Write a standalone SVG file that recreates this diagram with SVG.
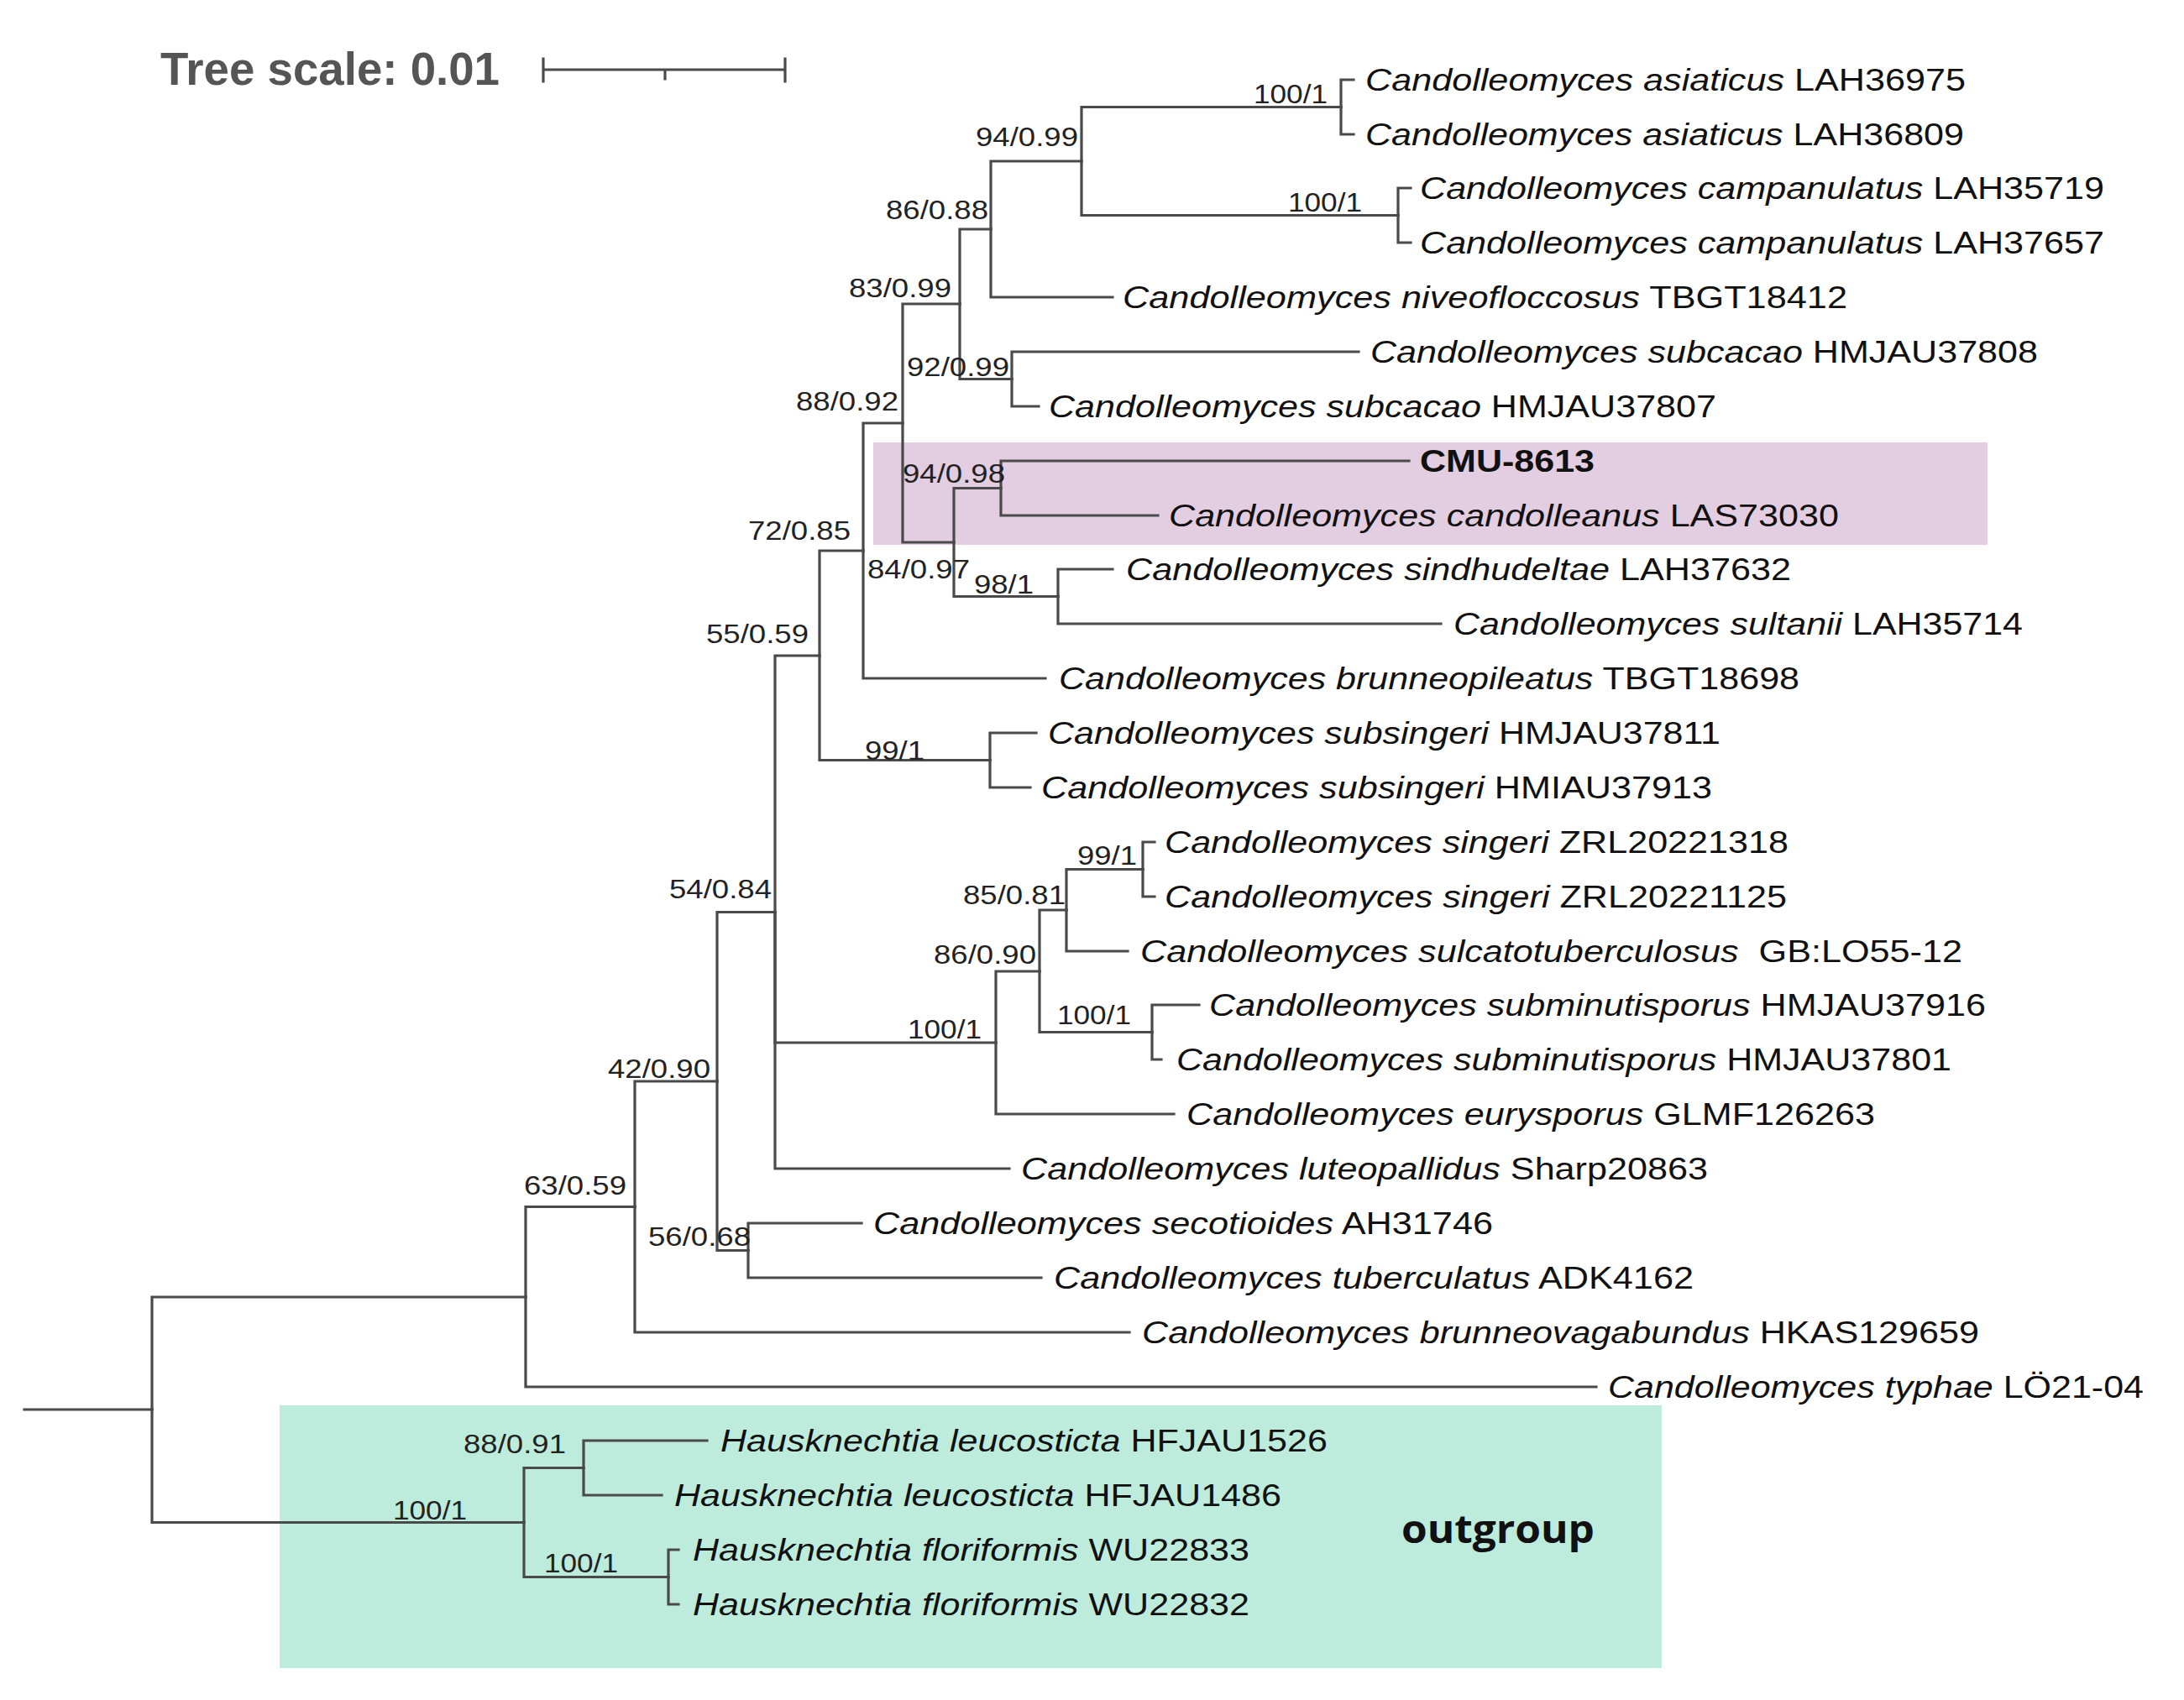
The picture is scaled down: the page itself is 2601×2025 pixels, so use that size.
<svg xmlns="http://www.w3.org/2000/svg" width="2601" height="2025" viewBox="0 0 2601 2025">
<style>
.br{fill:none;stroke:#4a4a4a;stroke-width:3.2;stroke-linecap:square}
.lf{font-family:"Liberation Sans",Arial,sans-serif;font-size:36px;fill:#111}
.lf .sp{font-style:italic}
.sup{font-family:"Liberation Sans",Arial,sans-serif;font-size:31px;fill:#222}
.ttl{font-family:"Liberation Sans",Arial,sans-serif;font-size:55px;font-weight:bold;fill:#555}
.og{font-family:"Open Sans","Noto Sans",sans-serif;font-size:46px;font-weight:bold;fill:#111}
</style>
<rect width="2601" height="2025" fill="#fff"/>
<g id="highlight-boxes">
<rect x="1040" y="527" width="1327" height="122" fill="#e3cde1"/>
<rect x="333" y="1674" width="1646" height="313" fill="#beecdc"/>
</g>
<g id="tree-scale">
<text class="ttl" x="191" y="101" textLength="404" lengthAdjust="spacingAndGlyphs">Tree scale: 0.01</text>
<path class="br" d="M647,83 H935 M647,70 V97 M935,70 V97 M792,83 V94"/>
</g>
<g id="connectors">
<path class="br" d="M29,1679 H181"/>
<path class="br" d="M181,1679 V1545 H626"/>
<path class="br" d="M626,1545 V1437.5 H756"/>
<path class="br" d="M626,1545 V1652 H1901"/>
<path class="br" d="M756,1437.5 V1288 H854"/>
<path class="br" d="M756,1437.5 V1587 H1345"/>
<path class="br" d="M854,1288 V1086.5 H923"/>
<path class="br" d="M854,1288 V1489.5 H891"/>
<path class="br" d="M891,1489.5 V1457 H1026"/>
<path class="br" d="M891,1489.5 V1522 H1240"/>
<path class="br" d="M923,1086.5 V781 H976"/>
<path class="br" d="M923,1086.5 V1242 H1186"/>
<path class="br" d="M923,1086.5 V1392 H1202"/>
<path class="br" d="M976,781 V656 H1028"/>
<path class="br" d="M976,781 V905.5 H1179"/>
<path class="br" d="M1179,905.5 V873 H1234"/>
<path class="br" d="M1179,905.5 V938 H1227"/>
<path class="br" d="M1028,656 V504 H1075"/>
<path class="br" d="M1028,656 V808 H1245"/>
<path class="br" d="M1075,504 V362 H1143"/>
<path class="br" d="M1075,504 V646 H1136"/>
<path class="br" d="M1143,362 V273 H1180"/>
<path class="br" d="M1143,362 V451.5 H1205"/>
<path class="br" d="M1205,451.5 V419 H1618"/>
<path class="br" d="M1205,451.5 V484 H1237"/>
<path class="br" d="M1180,273 V192 H1288"/>
<path class="br" d="M1180,273 V354 H1325"/>
<path class="br" d="M1288,192 V127.5 H1597"/>
<path class="br" d="M1288,192 V256.5 H1665"/>
<path class="br" d="M1597,127.5 V95 H1612"/>
<path class="br" d="M1597,127.5 V160 H1612"/>
<path class="br" d="M1665,256.5 V224 H1680"/>
<path class="br" d="M1665,256.5 V289 H1680"/>
<path class="br" d="M1136,646 V581.5 H1192"/>
<path class="br" d="M1136,646 V710.5 H1260"/>
<path class="br" d="M1192,581.5 V549 H1678"/>
<path class="br" d="M1192,581.5 V614 H1379"/>
<path class="br" d="M1260,710.5 V678 H1325"/>
<path class="br" d="M1260,710.5 V743 H1716"/>
<path class="br" d="M1186,1242 V1157 H1238"/>
<path class="br" d="M1186,1242 V1327 H1398"/>
<path class="br" d="M1238,1157 V1084 H1270"/>
<path class="br" d="M1238,1157 V1229.5 H1372"/>
<path class="br" d="M1372,1229.5 V1197 H1428"/>
<path class="br" d="M1372,1229.5 V1262 H1383"/>
<path class="br" d="M1270,1084 V1035.5 H1361"/>
<path class="br" d="M1270,1084 V1133 H1343"/>
<path class="br" d="M1361,1035.5 V1003 H1375"/>
<path class="br" d="M1361,1035.5 V1068 H1375"/>
<path class="br" d="M181,1679 V1813.5 H624"/>
<path class="br" d="M624,1813.5 V1748.5 H695"/>
<path class="br" d="M624,1813.5 V1878.5 H796"/>
<path class="br" d="M695,1748.5 V1716 H842"/>
<path class="br" d="M695,1748.5 V1781 H788"/>
<path class="br" d="M796,1878.5 V1846 H808"/>
<path class="br" d="M796,1878.5 V1911 H808"/>
</g>
<g id="support-labels">
<g id="n-asiaticus"><text class="sup" x="1493" y="123" textLength="88" lengthAdjust="spacingAndGlyphs">100/1</text></g>
<g id="n-94-099"><text class="sup" x="1162" y="174" textLength="122" lengthAdjust="spacingAndGlyphs">94/0.99</text></g>
<g id="n-campanulatus"><text class="sup" x="1534" y="252" textLength="88" lengthAdjust="spacingAndGlyphs">100/1</text></g>
<g id="n-86-088"><text class="sup" x="1055" y="261" textLength="122" lengthAdjust="spacingAndGlyphs">86/0.88</text></g>
<g id="n-83-099"><text class="sup" x="1011" y="354" textLength="122" lengthAdjust="spacingAndGlyphs">83/0.99</text></g>
<g id="n-92-099"><text class="sup" x="1080" y="448" textLength="122" lengthAdjust="spacingAndGlyphs">92/0.99</text></g>
<g id="n-88-092"><text class="sup" x="948" y="489" textLength="122" lengthAdjust="spacingAndGlyphs">88/0.92</text></g>
<g id="n-94-098"><text class="sup" x="1075" y="575" textLength="122" lengthAdjust="spacingAndGlyphs">94/0.98</text></g>
<g id="n-72-085"><text class="sup" x="891" y="643" textLength="122" lengthAdjust="spacingAndGlyphs">72/0.85</text></g>
<g id="n-84-097"><text class="sup" x="1033" y="689" textLength="122" lengthAdjust="spacingAndGlyphs">84/0.97</text></g>
<g id="n-98-1"><text class="sup" x="1160" y="707" textLength="71" lengthAdjust="spacingAndGlyphs">98/1</text></g>
<g id="n-55-059"><text class="sup" x="841" y="766" textLength="122" lengthAdjust="spacingAndGlyphs">55/0.59</text></g>
<g id="n-subsingeri"><text class="sup" x="1030" y="905" textLength="71" lengthAdjust="spacingAndGlyphs">99/1</text></g>
<g id="n-singeri"><text class="sup" x="1283" y="1030" textLength="71" lengthAdjust="spacingAndGlyphs">99/1</text></g>
<g id="n-85-081"><text class="sup" x="1147" y="1077" textLength="122" lengthAdjust="spacingAndGlyphs">85/0.81</text></g>
<g id="n-54-084"><text class="sup" x="797" y="1070" textLength="122" lengthAdjust="spacingAndGlyphs">54/0.84</text></g>
<g id="n-86-090"><text class="sup" x="1112" y="1148" textLength="122" lengthAdjust="spacingAndGlyphs">86/0.90</text></g>
<g id="n-subminutisporus"><text class="sup" x="1259" y="1220" textLength="88" lengthAdjust="spacingAndGlyphs">100/1</text></g>
<g id="n-eurysporus-clade"><text class="sup" x="1081" y="1237" textLength="88" lengthAdjust="spacingAndGlyphs">100/1</text></g>
<g id="n-42-090"><text class="sup" x="724" y="1284" textLength="122" lengthAdjust="spacingAndGlyphs">42/0.90</text></g>
<g id="n-63-059"><text class="sup" x="624" y="1423" textLength="122" lengthAdjust="spacingAndGlyphs">63/0.59</text></g>
<g id="n-56-068"><text class="sup" x="772" y="1484" textLength="122" lengthAdjust="spacingAndGlyphs">56/0.68</text></g>
<g id="n-88-091"><text class="sup" x="552" y="1731" textLength="122" lengthAdjust="spacingAndGlyphs">88/0.91</text></g>
<g id="n-outgroup"><text class="sup" x="468" y="1810" textLength="88" lengthAdjust="spacingAndGlyphs">100/1</text></g>
<g id="n-floriformis"><text class="sup" x="648" y="1873" textLength="88" lengthAdjust="spacingAndGlyphs">100/1</text></g>
</g>
<g id="leaves">
<g id="t01"><text class="lf" x="1626" y="108" textLength="715" lengthAdjust="spacingAndGlyphs"><tspan class="sp">Candolleomyces asiaticus</tspan> LAH36975</text></g>
<g id="t02"><text class="lf" x="1626" y="173" textLength="713" lengthAdjust="spacingAndGlyphs"><tspan class="sp">Candolleomyces asiaticus</tspan> LAH36809</text></g>
<g id="t03"><text class="lf" x="1691" y="237" textLength="815" lengthAdjust="spacingAndGlyphs"><tspan class="sp">Candolleomyces campanulatus</tspan> LAH35719</text></g>
<g id="t04"><text class="lf" x="1691" y="302" textLength="815" lengthAdjust="spacingAndGlyphs"><tspan class="sp">Candolleomyces campanulatus</tspan> LAH37657</text></g>
<g id="t05"><text class="lf" x="1337" y="367" textLength="863" lengthAdjust="spacingAndGlyphs"><tspan class="sp">Candolleomyces niveofloccosus</tspan> TBGT18412</text></g>
<g id="t06"><text class="lf" x="1632" y="432" textLength="795" lengthAdjust="spacingAndGlyphs"><tspan class="sp">Candolleomyces subcacao</tspan> HMJAU37808</text></g>
<g id="t07"><text class="lf" x="1249" y="497" textLength="795" lengthAdjust="spacingAndGlyphs"><tspan class="sp">Candolleomyces subcacao</tspan> HMJAU37807</text></g>
<g id="t08"><text class="lf" x="1691" y="562" textLength="208" lengthAdjust="spacingAndGlyphs" font-weight="bold">CMU-8613</text></g>
<g id="t09"><text class="lf" x="1392" y="627" textLength="798" lengthAdjust="spacingAndGlyphs"><tspan class="sp">Candolleomyces candolleanus</tspan> LAS73030</text></g>
<g id="t10"><text class="lf" x="1341" y="691" textLength="792" lengthAdjust="spacingAndGlyphs"><tspan class="sp">Candolleomyces sindhudeltae</tspan> LAH37632</text></g>
<g id="t11"><text class="lf" x="1731" y="756" textLength="678" lengthAdjust="spacingAndGlyphs"><tspan class="sp">Candolleomyces sultanii</tspan> LAH35714</text></g>
<g id="t12"><text class="lf" x="1261" y="821" textLength="882" lengthAdjust="spacingAndGlyphs"><tspan class="sp">Candolleomyces brunneopileatus</tspan> TBGT18698</text></g>
<g id="t13"><text class="lf" x="1248" y="886" textLength="801" lengthAdjust="spacingAndGlyphs"><tspan class="sp">Candolleomyces subsingeri</tspan> HMJAU37811</text></g>
<g id="t14"><text class="lf" x="1240" y="951" textLength="799" lengthAdjust="spacingAndGlyphs"><tspan class="sp">Candolleomyces subsingeri</tspan> HMIAU37913</text></g>
<g id="t15"><text class="lf" x="1387" y="1016" textLength="743" lengthAdjust="spacingAndGlyphs"><tspan class="sp">Candolleomyces singeri</tspan> ZRL20221318</text></g>
<g id="t16"><text class="lf" x="1387" y="1081" textLength="741" lengthAdjust="spacingAndGlyphs"><tspan class="sp">Candolleomyces singeri</tspan> ZRL20221125</text></g>
<g id="t17"><text class="lf" x="1358" y="1146" textLength="979" lengthAdjust="spacingAndGlyphs"><tspan class="sp">Candolleomyces sulcatotuberculosus</tspan> <tspan dx="10">GB:LO55-12</tspan></text></g>
<g id="t18"><text class="lf" x="1440" y="1210" textLength="925" lengthAdjust="spacingAndGlyphs"><tspan class="sp">Candolleomyces subminutisporus</tspan> HMJAU37916</text></g>
<g id="t19"><text class="lf" x="1401" y="1275" textLength="923" lengthAdjust="spacingAndGlyphs"><tspan class="sp">Candolleomyces subminutisporus</tspan> HMJAU37801</text></g>
<g id="t20"><text class="lf" x="1413" y="1340" textLength="820" lengthAdjust="spacingAndGlyphs"><tspan class="sp">Candolleomyces eurysporus</tspan> GLMF126263</text></g>
<g id="t21"><text class="lf" x="1216" y="1405" textLength="818" lengthAdjust="spacingAndGlyphs"><tspan class="sp">Candolleomyces luteopallidus</tspan> Sharp20863</text></g>
<g id="t22"><text class="lf" x="1040" y="1470" textLength="738" lengthAdjust="spacingAndGlyphs"><tspan class="sp">Candolleomyces secotioides</tspan> AH31746</text></g>
<g id="t23"><text class="lf" x="1255" y="1535" textLength="762" lengthAdjust="spacingAndGlyphs"><tspan class="sp">Candolleomyces tuberculatus</tspan> ADK4162</text></g>
<g id="t24"><text class="lf" x="1360" y="1600" textLength="997" lengthAdjust="spacingAndGlyphs"><tspan class="sp">Candolleomyces brunneovagabundus</tspan> HKAS129659</text></g>
<g id="t25"><text class="lf" x="1915" y="1665" textLength="638" lengthAdjust="spacingAndGlyphs"><tspan class="sp">Candolleomyces typhae</tspan> LÖ21-04</text></g>
<g id="t26"><text class="lf" x="858" y="1729" textLength="723" lengthAdjust="spacingAndGlyphs"><tspan class="sp">Hausknechtia leucosticta</tspan> HFJAU1526</text></g>
<g id="t27"><text class="lf" x="803" y="1794" textLength="723" lengthAdjust="spacingAndGlyphs"><tspan class="sp">Hausknechtia leucosticta</tspan> HFJAU1486</text></g>
<g id="t28"><text class="lf" x="825" y="1859" textLength="663" lengthAdjust="spacingAndGlyphs"><tspan class="sp">Hausknechtia floriformis</tspan> WU22833</text></g>
<g id="t29"><text class="lf" x="825" y="1924" textLength="663" lengthAdjust="spacingAndGlyphs"><tspan class="sp">Hausknechtia floriformis</tspan> WU22832</text></g>
</g>
<g id="outgroup-label"><text class="og" x="1669" y="1838" textLength="230" lengthAdjust="spacingAndGlyphs">outgroup</text></g>
</svg>
